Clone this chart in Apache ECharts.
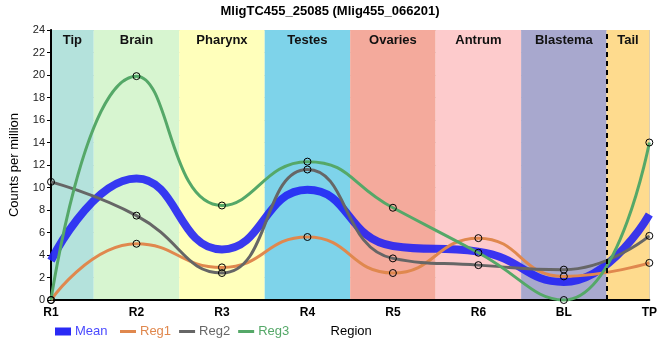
<!DOCTYPE html>
<html>
<head>
<meta charset="utf-8">
<script src="https://cdn.jsdelivr.net/npm/echarts@6/dist/echarts.min.js"></script>
<style>html,body{margin:0;padding:0;background:#fff}#c{width:660px;height:360px}</style>
</head>
<body>
<div id="c"></div>
<script>
var categories = ['R1','R2','R3','R4','R5','R6','BL','TP'];
var meanVals = [3.5, 10.8, 4.5, 9.8, 4.8, 4.3, 1.6, 7.6];
var reg1 = [0, 5.0, 2.9, 5.6, 2.4, 5.5, 2.1, 3.3];
var reg2 = [10.5, 7.5, 2.4, 11.6, 3.7, 3.1, 2.7, 5.7];
var reg3 = [0, 19.9, 8.4, 12.3, 8.2, 4.2, 0, 14.0];
var regions = ['Tip','Brain','Pharynx','Testes','Ovaries','Antrum','Blastema','Tail'];
var regionBounds = [[0,0.5],[0.5,1.5],[1.5,2.5],[2.5,3.5],[3.5,4.5],[4.5,5.5],[5.5,6.5],[6.5,7]];
var regionColors = ['#b4e2dc','#d7f5d0','#ffffbb','#7ed3ea','#f4aa9c','#fdcbcc','#a8a8ce','#fedb8e'];
var yTicks = {min:0, max:24, interval:2};

var FONT = 'Liberation Sans, Arial, sans-serif';
function pts(a){ return a.map(function(v,i){ return [i,v]; }); }
var symStyle = {color:'transparent', borderColor:'#000', borderWidth:1};

var chart = echarts.init(document.getElementById('c'));
chart.setOption({
  animation:false,
  textStyle:{fontFamily:FONT},
  title:{text:'MligTC455_25085 (Mlig455_066201)', left:'center', top:0,
    textStyle:{fontSize:13, fontWeight:'bold', color:'#000', fontFamily:FONT}},
  grid:{left:50, right:10, top:30, bottom:60},
  legend:[
    {left:50, top:320, itemWidth:16, itemHeight:8, icon:'rect', itemGap:10,
      data:[{name:'Mean', itemStyle:{color:'#2a2af5', borderWidth:0}, textStyle:{color:'#4a4aff'}}],
      textStyle:{fontSize:13, fontFamily:FONT, padding:[0,0,0,-1]}},
    {left:115, top:320, itemWidth:16, itemHeight:3, icon:'rect', itemGap:8,
      data:[
        {name:'Reg1', itemStyle:{color:'#e0884e', borderWidth:0}, textStyle:{color:'#e0884e'}},
        {name:'Reg2', itemStyle:{color:'#666666', borderWidth:0}, textStyle:{color:'#666666'}},
        {name:'Reg3', itemStyle:{color:'#55a868', borderWidth:0}, textStyle:{color:'#55a868'}}
      ],
      textStyle:{fontSize:13, fontFamily:FONT, padding:[0,0,0,-1]}}
  ],
  xAxis:[
    {type:'value', min:0, max:7, interval:1, z:1,
      name:'Region', nameLocation:'middle', nameGap:25,
      nameTextStyle:{fontSize:13, color:'#000', fontFamily:FONT, padding:[0,0,0,2]},
      axisLabel:{formatter:function(v){return categories[v];}, fontWeight:'bold', fontSize:12, color:'#000', margin:7, fontFamily:FONT},
      axisLine:{show:true, lineStyle:{color:'#000', width:2}},
      axisTick:{show:false},
      splitLine:{show:true, lineStyle:{color:'#c8c8c8', width:1}}},
    {type:'value', min:0, max:7, position:'top', z:1,
      axisLine:{show:true, lineStyle:{color:'#000', width:1}},
      axisLabel:{show:false}, axisTick:{show:false}, splitLine:{show:false}}
  ],
  yAxis:[
    {type:'value', min:yTicks.min, max:yTicks.max, interval:yTicks.interval, z:1,
      name:'Counts per million', nameLocation:'middle', nameGap:30,
      nameTextStyle:{fontSize:13, color:'#000', fontFamily:FONT},
      axisLabel:{fontSize:11, color:'#222', margin:6, fontFamily:FONT},
      axisLine:{show:true, lineStyle:{color:'#000', width:2}},
      axisTick:{show:true, length:4, lineStyle:{color:'#000'}},
      splitLine:{show:true, lineStyle:{color:'#c8c8c8', width:1}}},
    {type:'value', min:yTicks.min, max:yTicks.max, position:'right', z:1,
      axisLine:{show:true, lineStyle:{color:'#000', width:1}},
      axisLabel:{show:false}, axisTick:{show:false}, splitLine:{show:false}}
  ],
  series:[
    {type:'line', name:'bands', data:[], z:0, silent:true,
      markArea:{silent:true,
        label:{show:true, position:'insideTop', distance:4, fontWeight:'bold', fontSize:13, color:'#111', fontFamily:FONT},
        data: regions.map(function(r,i){
          return [{name:r, xAxis:regionBounds[i][0], itemStyle:{color:regionColors[i], opacity:1}}, {xAxis:regionBounds[i][1]}];
        })}},
    {type:'line', name:'Mean', data:pts(meanVals), smooth:0.5, showSymbol:false, symbol:'none', z:2,
      lineStyle:{color:'#1f1ff5', width:8, opacity:0.88, cap:'butt'}, itemStyle:{color:'#2a2af5'}},
    {type:'line', name:'Reg1', data:pts(reg1), smooth:0.5, symbol:'circle', symbolSize:7, z:3, clip:false,
      lineStyle:{color:'#e0884e', width:3}, itemStyle:symStyle},
    {type:'line', name:'Reg2', data:pts(reg2), smooth:0.5, symbol:'circle', symbolSize:7, z:3, clip:false,
      lineStyle:{color:'#666666', width:3}, itemStyle:symStyle},
    {type:'line', name:'Reg3', data:pts(reg3), smooth:0.5, symbol:'circle', symbolSize:7, z:3, clip:false,
      lineStyle:{color:'#55a868', width:3}, itemStyle:symStyle,
      markLine:{silent:true, symbol:'none', label:{show:false},
        lineStyle:{color:'#000', width:2, type:[5,4]},
        data:[{xAxis:6.5}]}}
  ]
});
</script>
</body>
</html>
